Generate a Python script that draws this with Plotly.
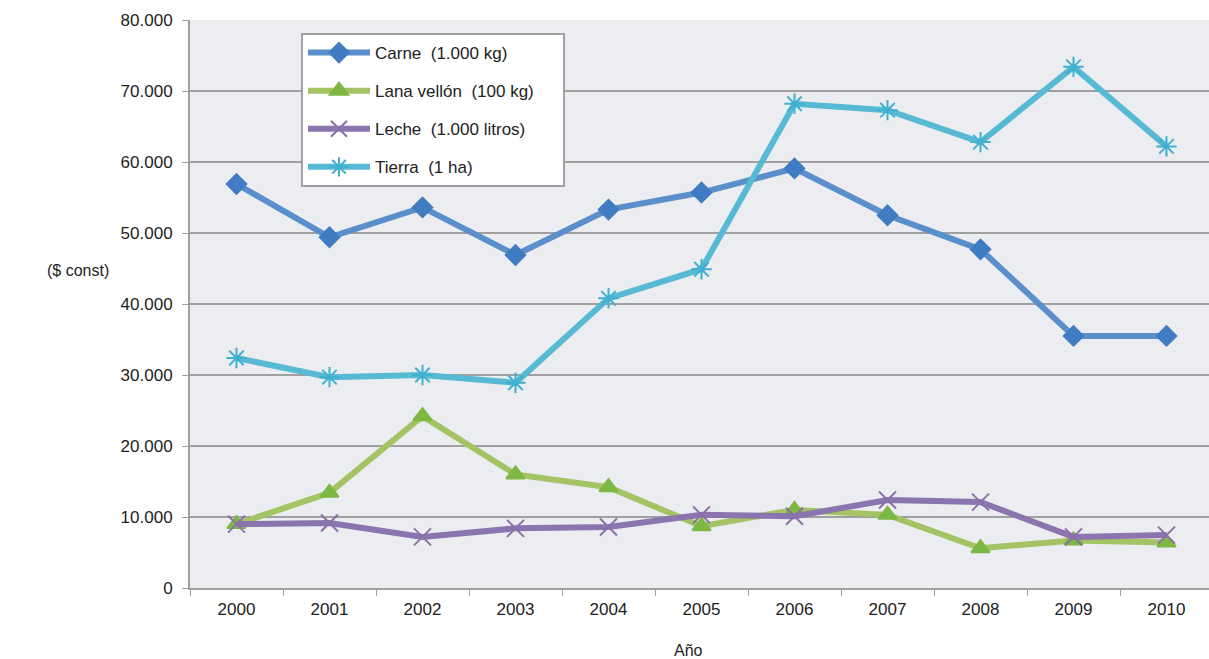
import plotly.graph_objects as go

years = ["2000", "2001", "2002", "2003", "2004", "2005", "2006", "2007", "2008", "2009", "2010"]
carne = [56900, 49400, 53600, 46900, 53300, 55700, 59100, 52500, 47700, 35500, 35500]
lana = [9000, 13400, 24200, 16000, 14200, 8700, 11000, 10300, 5600, 6700, 6400]
leche = [9000, 9150, 7200, 8400, 8600, 10300, 10100, 12400, 12100, 7200, 7450]
tierra = [32400, 29700, 30000, 28900, 40800, 44900, 68200, 67300, 62800, 73400, 62200]

names = ["Carne  (1.000 kg)", "Lana vellón  (100 kg)", "Leche  (1.000 litros)", "Tierra  (1 ha)"]
line_colors = ["#5B8FCB", "#A3C364", "#8C74AF", "#57B9D4"]
marker_colors = ["#3F7CC2", "#7DB843", "#8B6FA8", "#3FB0CF"]
symbols = ["diamond", "triangle-up", "x-thin-open", "asterisk-open"]
sizes = [15, 16, 17, 17]

font = "Liberation Sans Narrow, Arial Narrow, Liberation Sans, Arial"

W, H = 1209, 659
L, T, B, R = 190, 20, 71, 0
pw, ph = W - L - R, H - T - B

fig = go.Figure()
for i, (vals, nm, lc, mc, sym, sz) in enumerate(zip([carne, lana, leche, tierra], names, line_colors, marker_colors, symbols, sizes)):
    label = nm + ("\u00a0" * 5 if i == 1 else "")
    fig.add_trace(go.Scatter(
        x=years, y=vals, name=label, mode="lines+markers", legendgroup=str(i),
        line=dict(color=lc, width=6),
        marker=dict(symbol=sym, size=sz, color=mc, line=dict(color=mc, width=2)),
    ))

fig.update_layout(
    width=W, height=H,
    margin=dict(l=L, r=R, t=T, b=B),
    paper_bgcolor="white", plot_bgcolor="#ECEDF0",
    font=dict(family=font, size=17, color="#222222"),
    showlegend=True,
    legend=dict(
        x=(301 - L) / pw, y=(H - B - 33) / ph, xanchor="left", yanchor="top",
        bgcolor="white", bordercolor="#A0A0A0", borderwidth=2,
        font=dict(size=17, family=font), tracegroupgap=13,
        itemwidth=62,
    ),
    xaxis=dict(
        type="category", showgrid=False, tickson="boundaries",
        ticks="outside", ticklen=6, tickcolor="#A0A0A0",
        showline=True, linecolor="#A0A0A0", linewidth=2,
        range=[-0.5, -0.5 + pw / 93.0], ticklabelstandoff=5,
    ),
    yaxis=dict(
        range=[0, 80000], dtick=10000, tickformat=",d",
        showgrid=True, gridcolor="#A0A0A0", gridwidth=2,
        ticks="outside", ticklen=6, tickcolor="#A0A0A0",
        showline=True, linecolor="#A0A0A0", linewidth=2,
        zeroline=False, ticklabelstandoff=6,
    ),
    separators=",.",
    annotations=[
        dict(text="($ const)", x=(45 - L) / pw, y=(H - B - 270) / ph, xref="paper", yref="paper",
             showarrow=False, font=dict(size=16, family=font)),
        dict(text="Año", x=(688 - L) / pw, y=-(650 - (H - B)) / ph, xref="paper", yref="paper",
             showarrow=False, font=dict(size=16, family=font), yanchor="middle"),
    ],
)

fig.write_html("out.html", config={"displayModeBar": False},
               post_script="document.body.style.margin='0';document.body.style.overflow='hidden';")
